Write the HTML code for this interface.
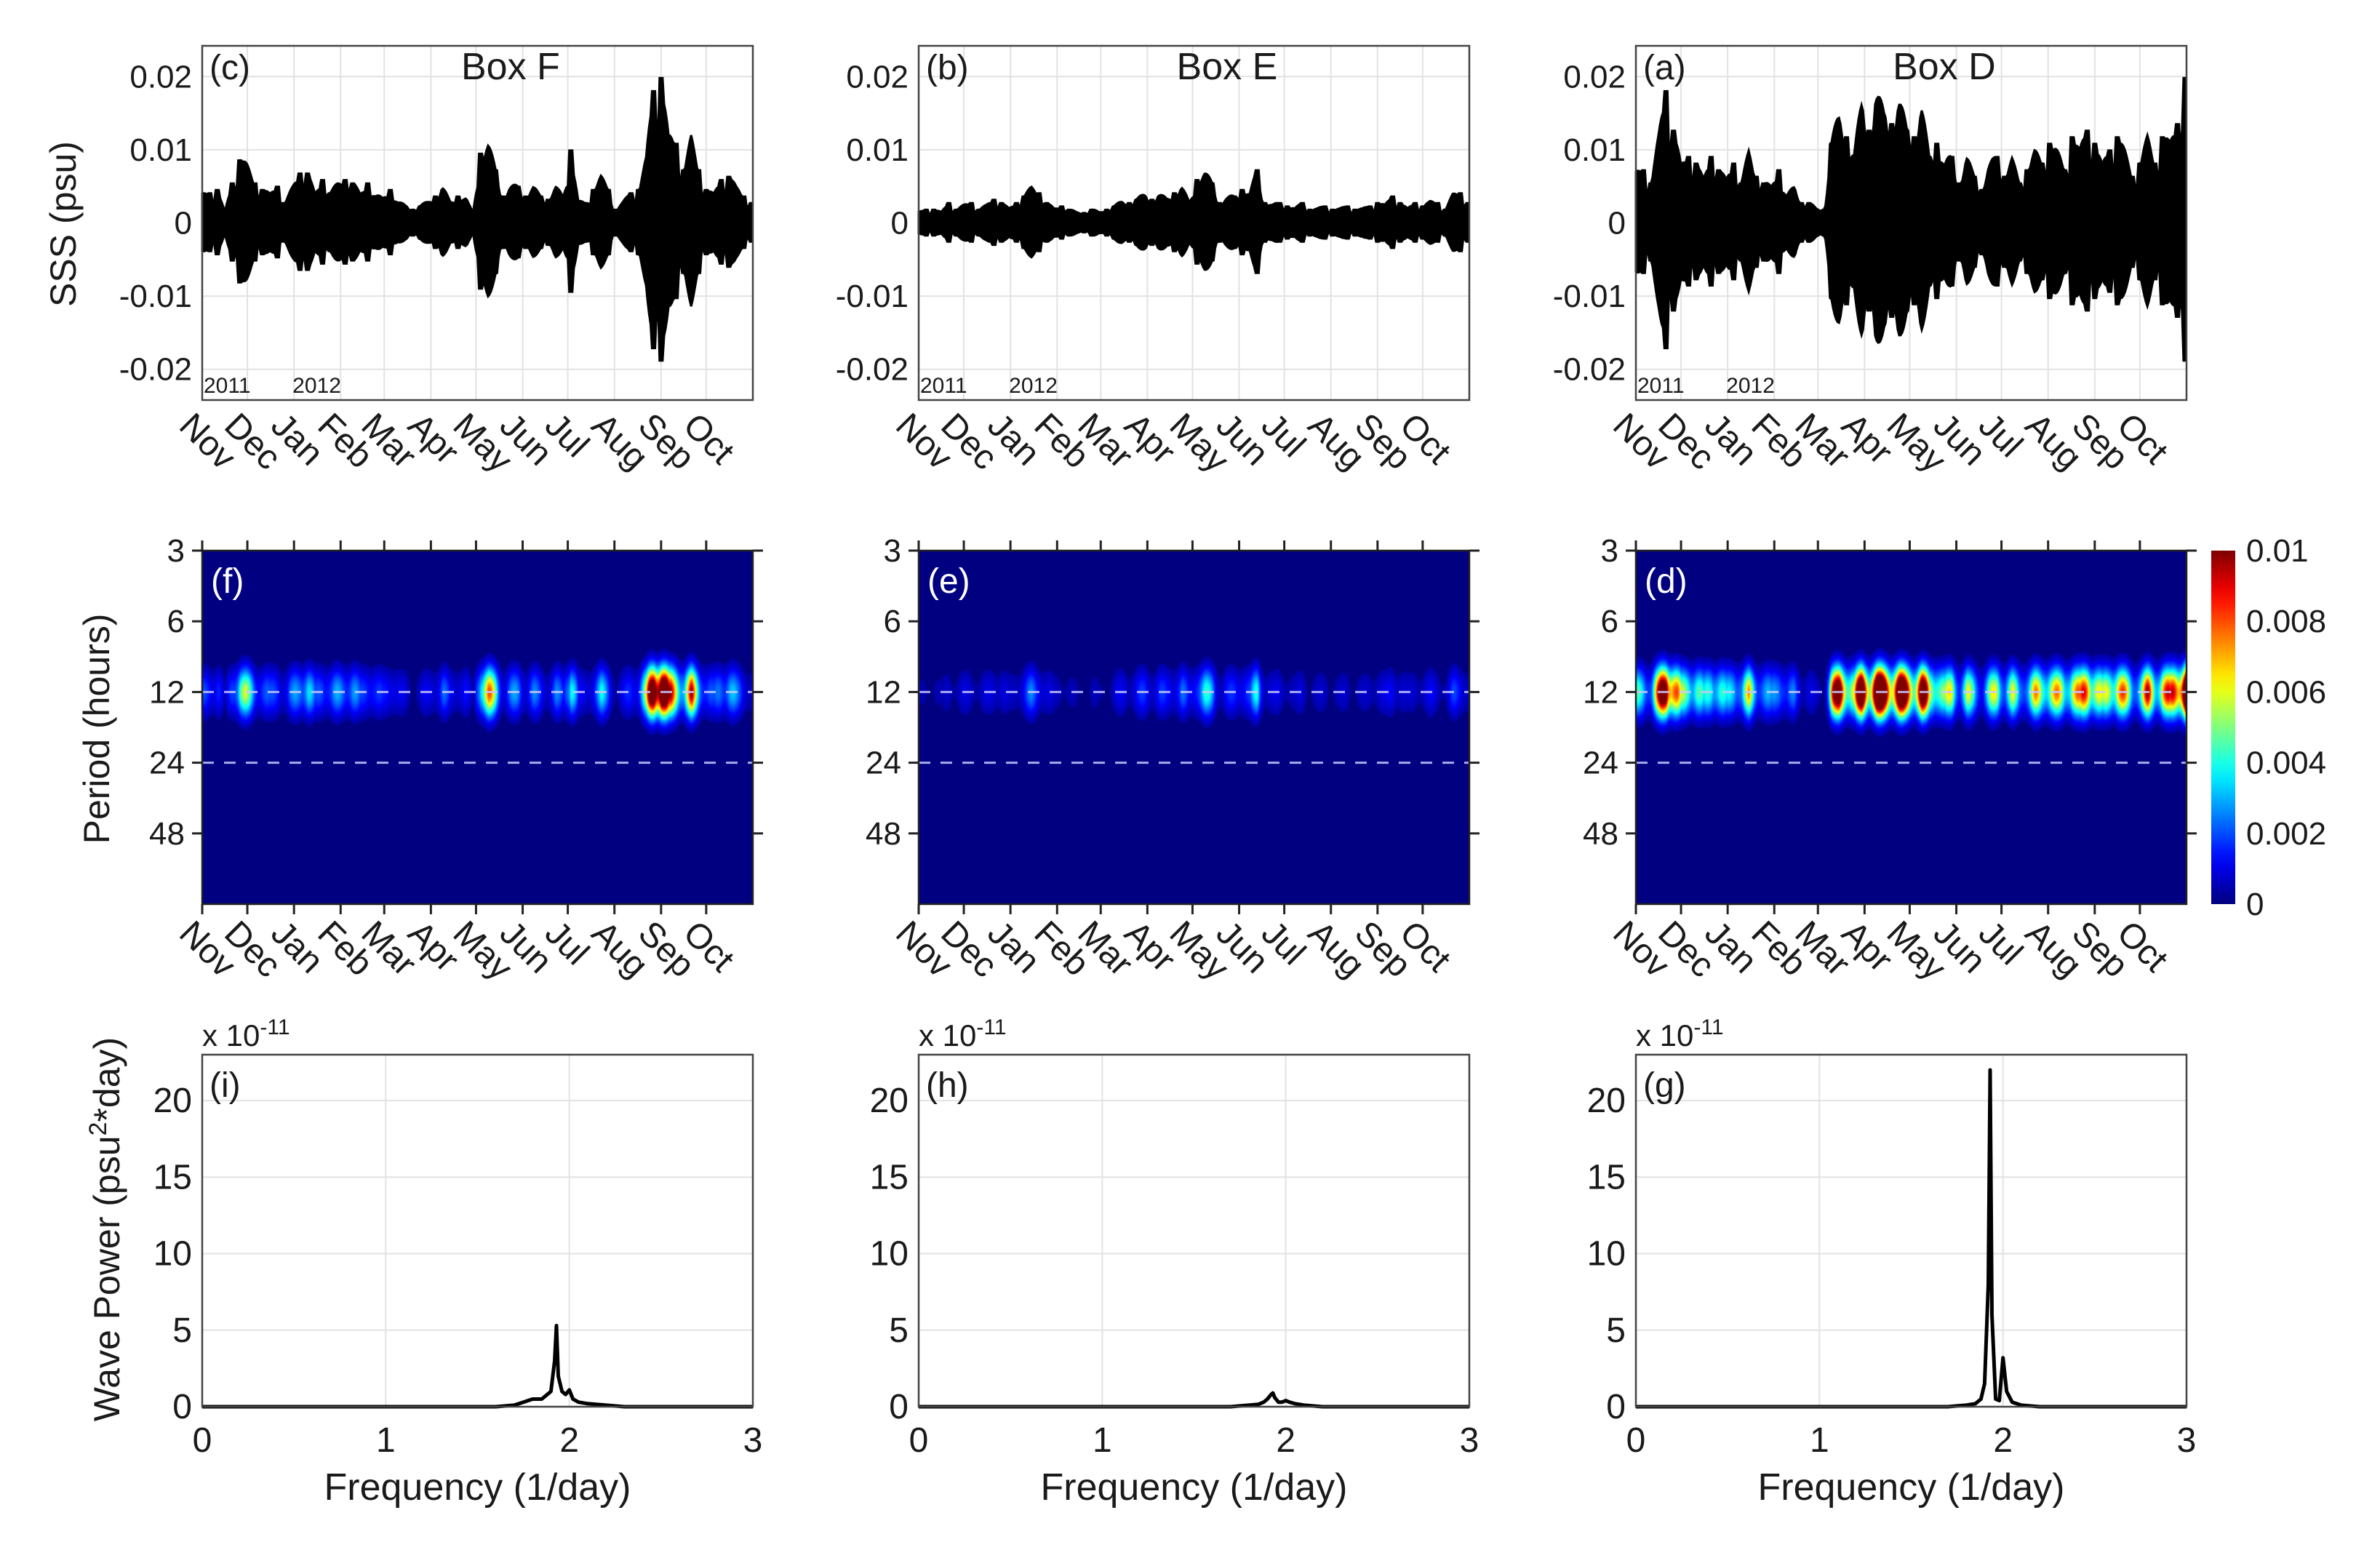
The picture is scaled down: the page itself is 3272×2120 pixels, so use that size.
<!DOCTYPE html>
<html><head><meta charset="utf-8">
<style>
html,body{margin:0;padding:0;background:#fff;}
#wrap{position:relative;width:3272px;height:2120px;overflow:hidden;background:#fff;}
canvas{position:absolute;}
svg{position:absolute;left:0;top:0;}
text{font-family:"Liberation Sans",sans-serif;fill:#1a1a1a;}
</style></head>
<body>
<div id="wrap">
<canvas id="hm0" width="757" height="486" style="left:278px;top:757px"></canvas>
<canvas id="hm1" width="757" height="486" style="left:1263px;top:757px"></canvas>
<canvas id="hm2" width="757" height="486" style="left:2249px;top:757px"></canvas>
<svg id="svg" width="3272" height="2120"></svg>
</div>
<script>
// ---- data ----
const months = ["Nov","Dec","Jan","Feb","Mar","Apr","May","Jun","Jul","Aug","Sep","Oct"];
const monthDays = [0,30,61,92,121,152,182,213,243,274,305,335];
const sssTicks = [0.02,0.01,0,-0.01,-0.02];
const sssTickLabels = ["0.02","0.01","0","-0.01","-0.02"];
const periodTicks = [3,6,12,24,48];
const cbTicks = [0,0.002,0.004,0.006,0.008,0.01];
const cbTickLabels = ["0","0.002","0.004","0.006","0.008","0.01"];
const freqTicks = [0,1,2,3];
const powerTicks = [0,5,10,15,20];
const envDays = [0,5,10,15,20,25,30,35,40,45,50,55,60,65,70,75,80,85,90,95,100,105,110,115,120,125,130,135,140,145,150,155,160,165,170,175,180,185,190,195,200,205,210,215,220,225,230,235,240,245,250,255,260,265,270,275,280,285,290,295,300,305,310,315,320,325,330,335,340,345,350,355,360,365];
// envelope amplitude in units of 0.001 psu
const envF = [4,4.5,5,1.5,6,9.5,8,6,5,4,5.5,3,5,7.5,7.5,4,6.5,4.5,5.5,6.5,6,4,6,4,3.5,5,3,2.5,2,2.5,3,4,5,3,4,3.5,1.5,10.5,11,8,4,5,5.5,4,5,4,3.5,5,4,11,3,3,5,6.5,5,2,3,4.5,5,9,20,22,12,12,8,12,8,5,4,6.5,7,5,4,3];
const envE = [1.5,2,2,1.5,3,2,2.5,3,2,2.5,3.5,3,2,3,4,5,4.5,3,2,2.5,2,1.5,1.5,2,1.5,2,2.5,3,3,3.5,4,3.5,4,3.5,4.5,5,3,6.5,7,6,3,3.5,4,5,4,8,3,2.5,3,2.5,2,3,2,2,2.5,2,2,2.5,2,2,2.5,3,2.5,4,3,2,3,2.5,3,3,2,4,4.5,3];
const envD = [7,8,6,12,20,14,8,10,9,6,10,8,6,9,6,10,7,6,5,8,4,5,3,3,2,2,12,15,13,10,17,14,18,16,15,17,14,13,16,10,12,8,10,6,9,7,5,8,10,7,9,6,8,10,9,12,10,8,13,10,14,12,8,11,13,10,7,9,12,9,13,11,15,22];
const freqs = [0,1.6,1.7,1.75,1.8,1.85,1.88,1.9,1.92,1.93,1.94,1.96,1.98,2.0,2.02,2.05,2.1,2.2,2.3,3];
const powF = [0,0,0.1,0.3,0.5,0.5,0.8,1,3,5.3,2,1,0.8,1.1,0.5,0.3,0.2,0.1,0,0];
const powE = [0,0,0,0.05,0.1,0.15,0.3,0.5,0.8,0.9,0.6,0.3,0.3,0.4,0.3,0.2,0.1,0,0,0];
const powD = [0,0,0,0.05,0.1,0.2,0.5,1.5,8,22,6,0.5,0.4,3.2,1,0.3,0.1,0,0,0];

const NS = "http://www.w3.org/2000/svg";
const svg = document.getElementById('svg');
function el(tag, attrs, parent, txt){
  const e = document.createElementNS(NS, tag);
  for (const k in attrs) e.setAttribute(k, attrs[k]);
  if (txt !== undefined) e.textContent = txt;
  (parent||svg).appendChild(e); return e;
}
const colX = [278,1263,2249], W = 757;
const panels = [
  {env:envF, pow:powF, ts:"(c)", hm:"(f)", sp:"(i)", box:"Box F", key:"f"},
  {env:envE, pow:powE, ts:"(b)", hm:"(e)", sp:"(h)", box:"Box E", key:"e"},
  {env:envD, pow:powD, ts:"(a)", hm:"(d)", sp:"(g)", box:"Box D", key:"d"}
];
const T0=63, T1=550, H0=757, H1=1243, P0=1450, P1=1934;
const tMax = 366;
function xDay(x0,d){ return x0 + d/tMax*W; }
function ySSS(v){ return (T0+T1)/2 - v/0.0242*((T1-T0)/2); }
function yPer(p){ return H0 + Math.log2(p/3)*(H1-H0)/5; }
function xFreq(x0,f){ return x0 + f/3*W; }
function yPow(p){ return P1 - p*(P1-P0)/23; }
function interp(arr,d){
  const i = Math.min(Math.floor(d/5), arr.length-2); const f=(d-envDays[i])/5;
  return arr[i]*(1-f)+arr[i+1]*f;
}
function localMax(arr,d){
  const i = Math.round(d/5);
  return Math.abs(d-envDays[Math.min(i,arr.length-1)])<1.2 ? arr[Math.min(i,arr.length-1)] : null;
}
function jet(v){
  v=Math.max(0,Math.min(1,v));
  const r=Math.max(0,Math.min(1,1.5-Math.abs(4*v-3)));
  const g=Math.max(0,Math.min(1,1.5-Math.abs(4*v-2)));
  const b=Math.max(0,Math.min(1,1.5-Math.abs(4*v-1)));
  return [r*255|0,g*255|0,b*255|0];
}
function monthLabels(g, x0, y){
  months.forEach((m,i)=>{
    const x = xDay(x0, monthDays[i]);
    const t = el('text',{x:x-34,y:y,'font-size':48,transform:`rotate(45 ${x-34} ${y})`},g,m);
    
    
  });
}

panels.forEach((p,pi)=>{
  const x0 = colX[pi];
  // ---------- time series ----------
  const g1 = el('g',{});
   
  monthDays.forEach(d=>{ el('line',{x1:xDay(x0,d),x2:xDay(x0,d),y1:T0,y2:T1,stroke:'#e2e2e2','stroke-width':2},g1); });
  sssTicks.forEach((v,i)=>{
    el('line',{x1:x0,x2:x0+W,y1:ySSS(v),y2:ySSS(v),stroke:'#e2e2e2','stroke-width':2},g1);
    const t=el('text',{x:x0-14,y:ySSS(v)+15,'font-size':44,'text-anchor':'end'},g1,sssTickLabels[i]);
     
  });
  let up=[],dn=[];
  for (let d=0; d<=365; d+=1){
    const e = interp(p.env,d);
    const m = 0.55+0.45*Math.abs(Math.cos(Math.PI*d/14.77));
    const lm = localMax(p.env,d);
    const a = (lm!==null ? Math.max(lm*0.9, e*m) : e*m)/1000;
    up.push(`${xDay(x0,d).toFixed(1)},${ySSS(a).toFixed(1)}`);
    dn.unshift(`${xDay(x0,d).toFixed(1)},${ySSS(-a*0.95).toFixed(1)}`);
  }
  const poly = el('polygon',{points:up.concat(dn).join(' '),fill:'#000',stroke:'#000','stroke-width':3,'stroke-linejoin':'miter'},g1);
   
  el('rect',{x:x0,y:T0,width:W,height:T1-T0,fill:'none',stroke:'#444','stroke-width':2.5},g1);
  el('text',{x:x0+10,y:T0+46,'font-size':48},g1,p.ts);
  el('text',{x:x0+W*0.56,y:T0+46,'font-size':52,'text-anchor':'middle'},g1,p.box);
  el('text',{x:x0+2,y:T1-10,'font-size':30},g1,'2011');
  el('text',{x:xDay(x0,61)-2,y:T1-10,'font-size':30},g1,'2012');
  monthLabels(g1, x0, 588);

  // ---------- heatmap ----------
  const cv = document.getElementById('hm'+pi); const ctx = cv.getContext('2d');
  const img = ctx.createImageData(W, H1-H0);
  const lp12 = Math.log2(12);
  const colAmp = [];
  for (let x=0;x<W;x++){
    const d = x/W*tMax;
    const e = interp(p.env,d);
    const sn = 0.4+0.6*Math.pow(Math.abs(Math.cos(Math.PI*d/14.77)),2);
    colAmp.push(0.01*Math.pow(e/11,1.5)*sn);
  }
  for (let y=0;y<H1-H0;y++){
    const lp = Math.log2(3)+ y/(H1-H0)*5;
    const vf = Math.exp(-Math.pow((lp-lp12)/0.32,2));
    for (let x=0;x<W;x++){
      const c = jet(colAmp[x]*vf/0.01*0.9);
      const k=(y*W+x)*4;
      img.data[k]=c[0]; img.data[k+1]=c[1]; img.data[k+2]=c[2]; img.data[k+3]=255;
      if (colAmp[x]*vf < 0.0004){ img.data[k]=0; img.data[k+1]=0; img.data[k+2]=128; }
    }
  }
  ctx.putImageData(img,0,0);
  const g2 = el('g',{});
   
  [12,24].forEach(per=>{
    el('line',{x1:x0,x2:x0+W,y1:yPer(per),y2:yPer(per),stroke:'#c8c8ff','stroke-width':3,'stroke-dasharray':'16 14',opacity:0.85},g2);
  });
  el('rect',{x:x0,y:H0,width:W,height:H1-H0,fill:'none',stroke:'#222','stroke-width':2.5},g2);
  periodTicks.forEach(per=>{
    const y=yPer(per);
    el('line',{x1:x0-14,x2:x0,y1:y,y2:y,stroke:'#222','stroke-width':3},g2);
    el('line',{x1:x0+W,x2:x0+W+14,y1:y,y2:y,stroke:'#222','stroke-width':3},g2);
    const t=el('text',{x:x0-24,y:y+15,'font-size':44,'text-anchor':'end'},g2,String(per));
     
  });
  monthDays.forEach(d=>{
    const x=xDay(x0,d);
    el('line',{x1:x,x2:x,y1:H0-14,y2:H0,stroke:'#222','stroke-width':3},g2);
    el('line',{x1:x,x2:x,y1:H1,y2:H1+14,stroke:'#222','stroke-width':3},g2);
  });
  el('text',{x:x0+12,y:H0+58,'font-size':48,fill:'#fff',style:'fill:#fff'},g2,p.hm);
  monthLabels(g2, x0, 1286);

  // ---------- spectrum ----------
  const g3 = el('g',{});
   
  freqTicks.forEach(f=>{
    el('line',{x1:xFreq(x0,f),x2:xFreq(x0,f),y1:P0,y2:P1,stroke:'#e2e2e2','stroke-width':2},g3);
    const t=el('text',{x:xFreq(x0,f),y:P1+62,'font-size':48,'text-anchor':'middle'},g3,String(f));
     
  });
  powerTicks.forEach(v=>{
    el('line',{x1:x0,x2:x0+W,y1:yPow(v),y2:yPow(v),stroke:'#e2e2e2','stroke-width':2},g3);
    const t=el('text',{x:x0-14,y:yPow(v)+16,'font-size':48,'text-anchor':'end'},g3,String(v));
     
  });
  const pts = freqs.map((f,i)=>`${xFreq(x0,f).toFixed(1)},${yPow(p.pow[i]).toFixed(1)}`).join(' ');
  const pl = el('polyline',{points:pts,fill:'none',stroke:'#000','stroke-width':5,'stroke-linejoin':'round'},g3);
   
  el('rect',{x:x0,y:P0,width:W,height:P1-P0,fill:'none',stroke:'#444','stroke-width':2.5},g3);
  el('text',{x:x0+10,y:P0+58,'font-size':48},g3,p.sp);
  const ex = el('text',{x:x0,y:P0-12,'font-size':42},g3);
  
  ex.innerHTML = 'x 10<tspan dy="-16" font-size="30">-11</tspan>';
  el('text',{x:x0+W/2,y:2062,'font-size':52,'text-anchor':'middle'},g3,'Frequency (1/day)');
});

// axis titles
el('text',{x:0,y:0,'font-size':50,'text-anchor':'middle',transform:'translate(104 308) rotate(-90)'},svg,'SSS (psu)');
el('text',{x:0,y:0,'font-size':50,'text-anchor':'middle',transform:'translate(150 1002) rotate(-90)'},svg,'Period (hours)');
const wp = el('text',{x:0,y:0,'font-size':50,'text-anchor':'middle',transform:'translate(164 1690) rotate(-90)'},svg);

wp.innerHTML='Wave Power (psu<tspan dy="-18" font-size="34">2</tspan><tspan dy="18">*day)</tspan>';

// colorbar
const defs = el('defs',{});
const lg = el('linearGradient',{id:'jetg',x1:0,y1:1,x2:0,y2:0},defs);
for (let i=0;i<=20;i++){ const c=jet(i/20); el('stop',{offset:i/20,'stop-color':`rgb(${c[0]},${c[1]},${i==0?128:c[2]})`},lg); }
const cb = el('rect',{x:3040,y:H0,width:33,height:H1-H0,fill:'url(#jetg)'});
 
cbTicks.forEach((v,i)=>{
  const y = H1 - v/0.01*(H1-H0);
  const t=el('text',{x:3088,y:y+15,'font-size':44},svg,cbTickLabels[i]);
   
});
</script>
</body></html>
